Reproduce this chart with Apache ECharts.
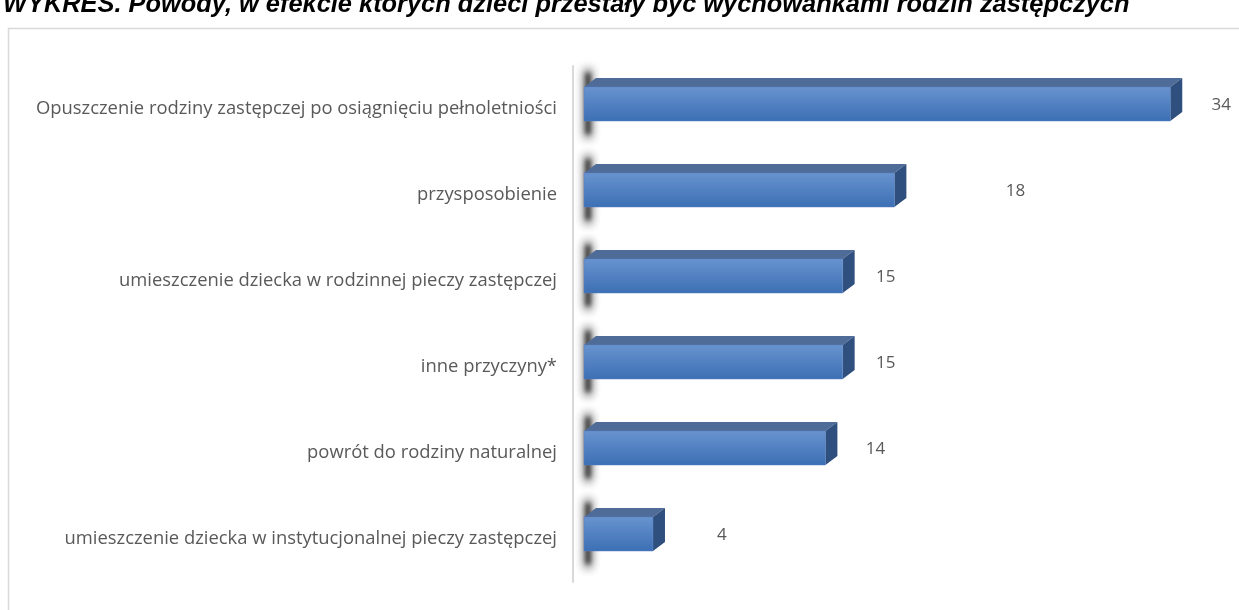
<!DOCTYPE html>
<html>
<head>
<meta charset="utf-8">
<script src="https://cdn.jsdelivr.net/npm/echarts@6/dist/echarts.min.js"></script>
<style>
html,body{margin:0;padding:0;background:#fff;}
#c{width:1239px;height:610px;}
</style>
</head>
<body>
<div id="c"></div>
<script>
const titleText = 'WYKRES. Powody, w efekcie których dzieci przestały być wychowankami rodzin zastępczych';
const categories = [
  'Opuszczenie rodziny zastępczej po osiągnięciu pełnoletniości',
  'przysposobienie',
  'umieszczenie dziecka w rodzinnej pieczy zastępczej',
  'inne przyczyny*',
  'powrót do rodziny naturalnej',
  'umieszczenie dziecka w instytucjonalnej pieczy zastępczej'
];
const values = [34, 18, 15, 15, 14, 4];
// label distance from bar end (style only)
const labelGap = [51, 121, 43, 43, 50, 69];

const chart = echarts.init(document.getElementById('c'), null, {renderer: 'canvas'});

const H = 34, DX = 12, DY = 9, SHIFT = -5;
const FONT = '"Open Sans", sans-serif';
const OFF = 3000;

function shadowRect(x, y, w, h, blur, alpha) {
  return {
    type: 'rect',
    shape: {x: x - OFF, y: y, width: w, height: h, r: w / 2},
    style: {
      fill: '#000',
      shadowBlur: blur,
      shadowOffsetX: OFF,
      shadowColor: 'rgba(25,25,25,' + alpha + ')'
    }
  };
}

function renderItem(params, api) {
  const idx = api.value(1);
  const v = api.value(0);
  const p0 = api.coord([0, idx]);
  const p1 = api.coord([v, idx]);
  const x0 = p0[0], x1 = p1[0];
  const y0 = p0[1] - H / 2 + SHIFT;
  const y1 = y0 + H;
  return {
    type: 'group',
    children: [
      shadowRect(x0 + 1, y0 - DY - 9, 6, H + DY + 26, 10, 0.95),
      shadowRect(x0 + 2, y0 - DY - 5, 4, H + DY + 18, 4, 0.8),
      {
        type: 'polygon',
        shape: {points: [[x0, y0], [x1, y0], [x1 + DX, y0 - DY], [x0 + DX, y0 - DY]]},
        style: {fill: '#4f6b98'}
      },
      {
        type: 'polygon',
        shape: {points: [[x1, y0], [x1 + DX, y0 - DY], [x1 + DX, y1 - DY], [x1, y1]]},
        style: {fill: '#2f4f7e'}
      },
      {
        type: 'rect',
        shape: {x: x0, y: y0, width: x1 - x0, height: H},
        style: {
          fill: new echarts.graphic.LinearGradient(0, 0, 0, 1, [
            {offset: 0, color: '#6893cf'},
            {offset: 1, color: '#3c6fb4'}
          ]),
          stroke: '#5b83c0',
          lineWidth: 0.5
        }
      },
      {
        type: 'text',
        style: {
          x: x1 + labelGap[idx],
          y: y0 + H / 2 + 1,
          text: String(v),
          fill: '#595959',
          font: '17px ' + FONT,
          align: 'center',
          verticalAlign: 'middle'
        }
      }
    ]
  };
}

const option = {
  backgroundColor: '#ffffff',
  animation: false,
  title: {
    text: titleText,
    left: -2,
    top: -13,
    textStyle: {
      fontFamily: '"Liberation Sans", sans-serif',
      fontStyle: 'italic',
      fontWeight: 'bold',
      fontSize: 25.4,
      color: '#000'
    }
  },
  graphic: [{
    type: 'rect',
    shape: {x: 8.5, y: 28.5, width: 1240, height: 600},
    style: {fill: 'none', stroke: '#d9d9d9', lineWidth: 1.5},
    z: -10
  }],
  grid: {left: 584, right: 17, top: 66, bottom: 28, containLabel: false},
  xAxis: {
    type: 'value', min: 0, max: 37,
    show: false
  },
  yAxis: {
    type: 'category',
    data: categories,
    inverse: true,
    offset: 11,
    axisLine: {show: true, onZero: false, lineStyle: {color: '#d9d9d9', width: 2}},
    axisTick: {show: false},
    axisLabel: {
      margin: 16,
      color: '#595959',
      fontFamily: FONT,
      fontSize: 18.4
    }
  },
  series: [{
    type: 'custom',
    renderItem: renderItem,
    encode: {x: 0, y: 1},
    data: values.map((v, i) => [v, i])
  }]
};
chart.setOption(option);
</script>
</body>
</html>
